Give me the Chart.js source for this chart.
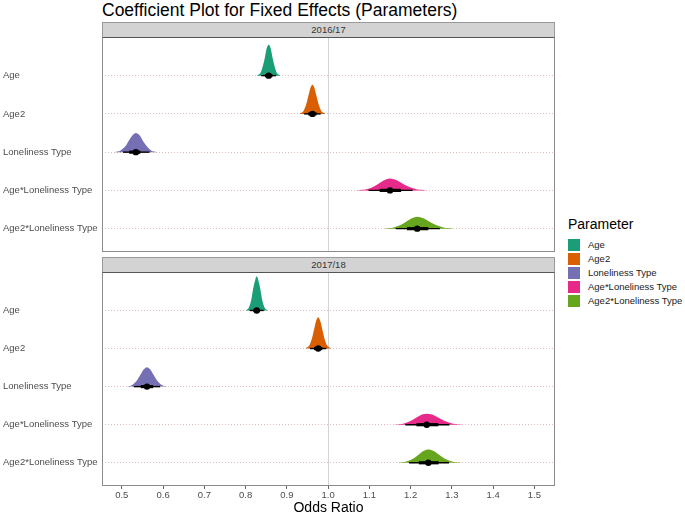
<!DOCTYPE html>
<html>
<head>
<meta charset="utf-8">
<script src="https://cdn.jsdelivr.net/npm/chart.js@4.4.1/dist/chart.umd.min.js"></script>
<style>
  html, body { margin: 0; padding: 0; background: #fff; overflow: hidden; }
  body { width: 685px; height: 513px; position: relative; font-family: "Liberation Sans", Arial, sans-serif; }
  canvas { position: absolute; left: 0; }
  .title { position: absolute; left: 102px; top: 0; font-size: 17.5px; line-height: 20px; color: #000; white-space: nowrap; }
  .strip { position: absolute; left: 102px; width: 451px; height: 14px; background: #d3d3d3;
           border: 1px solid #9a9a9a; border-bottom-color: #555; font-size: 9.5px; line-height: 14px;
           color: #333; text-align: center; }
  .ltitle { position: absolute; left: 568px; top: 216px; font-size: 14px; line-height: 16px; color: #000; }
  .lkey { position: absolute; left: 568px; width: 12px; height: 12px; }
  .llab { position: absolute; left: 588px; font-size: 9.5px; line-height: 12px; color: #1a1a1a; white-space: nowrap; }
</style>
</head>
<body>
<canvas id="top" width="556" height="216" style="top:37px"></canvas>
<canvas id="bot" width="556" height="246" style="top:272px"></canvas>
<div class="title">Coefficient Plot for Fixed Effects (Parameters)</div>
<div class="strip" id="strip0" style="top:22px"></div>
<div class="strip" id="strip1" style="top:257px"></div>
<div id="legend"></div>
<script>
// parameters, top to bottom
const params = ['Age', 'Age2', 'Loneliness Type', 'Age*Loneliness Type', 'Age2*Loneliness Type']
const colors = ['#1B9E77', '#D95F02', '#7570B3', '#E7298A', '#66A61E']
const facets = ['2016/17', '2017/18']
const xTicks = [0.5, 0.6, 0.7, 0.8, 0.9, 1.0, 1.1, 1.2, 1.3, 1.4, 1.5]

// 2016/17: medians and intervals (odds ratio)
const med1617 = [0.856, 0.962, 0.534, 1.150, 1.216]
const lo95_1617 = [0.838, 0.942, 0.503, 1.098, 1.164]
const hi95_1617 = [0.874, 0.982, 0.567, 1.205, 1.271]
const lo66_1617 = [0.847, 0.952, 0.518, 1.125, 1.191]
const hi66_1617 = [0.865, 0.972, 0.545, 1.177, 1.243]

// 2017/18
const med1718 = [0.827, 0.976, 0.561, 1.239, 1.243]
const lo95_1718 = [0.810, 0.956, 0.529, 1.187, 1.196]
const hi95_1718 = [0.844, 0.996, 0.593, 1.294, 1.293]
const lo66_1718 = [0.819, 0.966, 0.546, 1.214, 1.220]
const hi66_1718 = [0.835, 0.986, 0.576, 1.267, 1.268]

// slab outlines: x (odds ratio) and height (in rows)
const densX1617 = [
  [0.828, 0.836, 0.842, 0.847, 0.851, 0.856, 0.861, 0.865, 0.870, 0.876, 0.884],
  [0.931, 0.940, 0.947, 0.952, 0.957, 0.962, 0.967, 0.972, 0.977, 0.984, 0.993],
  [0.483, 0.497, 0.509, 0.517, 0.526, 0.534, 0.543, 0.551, 0.560, 0.571, 0.585],
  [1.072, 1.093, 1.111, 1.124, 1.137, 1.150, 1.165, 1.179, 1.194, 1.214, 1.237],
  [1.138, 1.159, 1.177, 1.190, 1.203, 1.216, 1.231, 1.245, 1.260, 1.280, 1.303]
]
const densH1617 = [
  [0.01, 0.07, 0.26, 0.49, 0.71, 0.81, 0.71, 0.49, 0.26, 0.07, 0.01],
  [0.01, 0.07, 0.25, 0.46, 0.67, 0.76, 0.67, 0.46, 0.25, 0.07, 0.01],
  [0.006, 0.045, 0.16, 0.30, 0.44, 0.50, 0.44, 0.30, 0.16, 0.045, 0.006],
  [0.003, 0.028, 0.10, 0.19, 0.27, 0.31, 0.27, 0.19, 0.10, 0.028, 0.003],
  [0.003, 0.028, 0.10, 0.19, 0.27, 0.31, 0.27, 0.19, 0.10, 0.028, 0.003]
]
const densX1718 = [
  [0.801, 0.808, 0.814, 0.818, 0.823, 0.827, 0.831, 0.836, 0.840, 0.846, 0.853],
  [0.945, 0.954, 0.961, 0.966, 0.971, 0.976, 0.981, 0.986, 0.991, 0.998, 1.007],
  [0.512, 0.525, 0.537, 0.545, 0.553, 0.561, 0.569, 0.577, 0.585, 0.597, 0.610],
  [1.161, 1.182, 1.200, 1.213, 1.226, 1.239, 1.254, 1.268, 1.283, 1.303, 1.326],
  [1.171, 1.190, 1.207, 1.219, 1.231, 1.243, 1.256, 1.269, 1.282, 1.300, 1.321]
]
const densH1718 = [
  [0.01, 0.08, 0.29, 0.55, 0.79, 0.90, 0.79, 0.55, 0.29, 0.08, 0.01],
  [0.01, 0.07, 0.27, 0.50, 0.72, 0.82, 0.72, 0.50, 0.27, 0.07, 0.01],
  [0.006, 0.045, 0.17, 0.31, 0.45, 0.51, 0.45, 0.31, 0.17, 0.045, 0.006],
  [0.003, 0.026, 0.094, 0.18, 0.26, 0.29, 0.26, 0.18, 0.094, 0.026, 0.003],
  [0.004, 0.031, 0.11, 0.21, 0.31, 0.35, 0.31, 0.21, 0.11, 0.031, 0.004]
]

Chart.defaults.font.family = "'Liberation Sans', Arial, sans-serif"

const rowOf = i => params.length - 1 - i

function buildDatasets(med, lo95, hi95, lo66, hi66, densX, densH) {
  const ds = []
  params.forEach((p, i) => {
    const row = rowOf(i)
    ds.push({
      data: densX[i].map((x, k) => ({ x, y: row + densH[i][k] })),
      fill: { value: row }, backgroundColor: colors[i], borderWidth: 0,
      pointRadius: 0, cubicInterpolationMode: 'monotone', order: 3
    })
    ds.push({
      data: [{ x: lo95[i], y: row }, { x: hi95[i], y: row }],
      borderColor: '#000', borderWidth: 1.4, pointRadius: 0, order: 2
    })
    ds.push({
      data: [{ x: lo66[i], y: row }, { x: hi66[i], y: row }],
      borderColor: '#000', borderWidth: 3.2, pointRadius: 0, order: 1
    })
  })
  ds.push({
    data: med.map((m, i) => ({ x: m, y: rowOf(i) })),
    showLine: false, pointRadius: 3.2, pointBackgroundColor: '#000', pointBorderWidth: 0, order: 0
  })
  return ds
}

const panelBorder = {
  id: 'panelBorder',
  afterDraw(chart) {
    const { ctx, chartArea: a } = chart
    ctx.save()
    ctx.strokeStyle = '#8c8c8c'
    ctx.lineWidth = 1
    ctx.strokeRect(a.left + 0.5, a.top + 0.5, a.right - a.left - 1, a.bottom - a.top - 1)
    ctx.restore()
  }
}

function makeChart(id, datasets, showX) {
  return new Chart(document.getElementById(id), {
    type: 'line',
    data: { datasets },
    options: {
      responsive: false,
      animation: false,
      events: [],
      layout: { autoPadding: false, padding: { left: 3, right: 1, top: 0, bottom: 0 } },
      plugins: { legend: { display: false }, tooltip: { enabled: false }, title: { display: false } },
      scales: {
        x: {
          type: 'linear', min: 0.452, max: 1.55,
          afterBuildTicks: s => { s.ticks = xTicks.map(v => ({ value: v })) },
          afterFit: s => { s.height = showX ? 32 : 1; s.paddingLeft = 0; s.paddingRight = 0 },
          grid: {
            color: c => (c.tick && Math.abs(c.tick.value - 1) < 1e-6) ? '#d4d4d4' : 'rgba(0,0,0,0)',
            drawTicks: showX, tickLength: 3, tickColor: '#666', tickWidth: 1
          },
          border: { display: false },
          ticks: {
            display: showX, color: '#4d4d4d', font: { size: 9.5 }, padding: 1,
            callback: v => v.toFixed(1)
          },
          title: {
            display: showX, text: 'Odds Ratio', color: '#000', font: { size: 14 },
            padding: { top: 0, bottom: 1 }
          }
        },
        y: {
          type: 'linear', min: -0.61, max: 5.01,
          afterBuildTicks: s => { s.ticks = params.map((p, i) => ({ value: i })) },
          afterFit: s => { s.width = 99; s.paddingTop = 0; s.paddingBottom = 0 },
          grid: { color: 'rgba(210,120,120,0.5)', lineWidth: 1, drawTicks: false },
          border: { display: false, dash: [1, 2] },
          ticks: {
            color: '#4d4d4d', font: { size: 9.5 }, crossAlign: 'far', padding: 0,
            callback: v => params[rowOf(v)]
          }
        }
      }
    },
    plugins: [panelBorder]
  })
}

makeChart('top', buildDatasets(med1617, lo95_1617, hi95_1617, lo66_1617, hi66_1617, densX1617, densH1617), false)
makeChart('bot', buildDatasets(med1718, lo95_1718, hi95_1718, lo66_1718, hi66_1718, densX1718, densH1718), true)

facets.forEach((f, i) => { document.getElementById('strip' + i).textContent = f })

// legend
const legend = document.getElementById('legend')
legend.innerHTML = '<div class="ltitle">Parameter</div>' + params.map((p, i) =>
  `<div class="lkey" style="top:${239 + i * 14}px;background:${colors[i]}"></div>` +
  `<div class="llab" style="top:${239 + i * 14}px">${p}</div>`
).join('')
</script>
</body>
</html>
